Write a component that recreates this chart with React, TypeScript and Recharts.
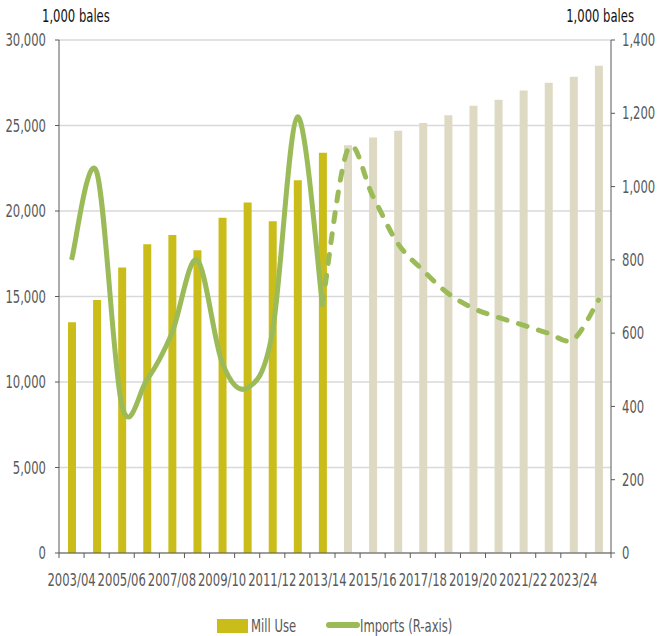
import React from "react";
import { ComposedChart, Bar, Line, Cell, XAxis, YAxis, CartesianGrid, Legend } from "recharts";

const seasons = [
  "2003/04", "2004/05", "2005/06", "2006/07", "2007/08", "2008/09", "2009/10", "2010/11",
  "2011/12", "2012/13", "2013/14", "2014/15", "2015/16", "2016/17", "2017/18", "2018/19",
  "2019/20", "2020/21", "2021/22", "2022/23", "2023/24", "2024/25",
];

// mill use, 1,000 bales (left axis)
const millUse = [
  13500, 14800, 16700, 18050, 18600, 17700, 19600, 20500, 19400, 21800, 23400,
  23850, 24300, 24700, 25150, 25600, 26150, 26500, 27050, 27500, 27850, 28500,
];

// imports, 1,000 bales (right axis); actual through 2013/14, projected after
const importsActual = [800, 1040, 405, 472, 600, 800, 520, 450, 600, 1190, 677];
const importsProjected = [677, 1100, 975, 845, 772, 709, 668, 643, 622, 600, 583, 690];
const projStart = 10;
const firstProjectedBar = 11;

const leftTicks = [0, 5000, 10000, 15000, 20000, 25000, 30000];
const rightTicks = [0, 200, 400, 600, 800, 1000, 1200, 1400];

const data = seasons.map((s, i) => ({
  season: s,
  mill: millUse[i],
  imports: i < importsActual.length ? importsActual[i] : null,
  importsProj: i >= projStart ? importsProjected[i - projStart] : null,
}));

const FONT = '"DejaVu Sans Condensed", "DejaVu Sans", sans-serif';
const FS = 17;
const SQUEEZE = 0.76; // the source uses a narrow font
const GRAY = "#595959";
const OLIVE = "#CABD1A";
const BEIGE = "#DDD9C3";
const GREEN = "#9BBB59";
const W = 657;
const H = 636;
const BAND = (W - 59 - 46) / seasons.length;

// Excel-like smoothing (Catmull-Rom through each point)
function excelSmooth(context: any) {
  let pts: number[][] = [];
  return {
    areaStart() {},
    areaEnd() {},
    lineStart() {
      pts = [];
    },
    point(x: number, y: number) {
      pts.push([+x, +y]);
    },
    lineEnd() {
      const n = pts.length;
      if (!n) return;
      context.moveTo(pts[0][0], pts[0][1]);
      for (let i = 0; i < n - 1; i++) {
        const p0 = pts[i - 1] || pts[i];
        const p1 = pts[i];
        const p2 = pts[i + 1];
        const p3 = pts[i + 2] || p2;
        context.bezierCurveTo(
          p1[0] + (p2[0] - p0[0]) / 6,
          p1[1] + (p2[1] - p0[1]) / 6,
          p2[0] - (p3[0] - p1[0]) / 6,
          p2[1] - (p3[1] - p1[1]) / 6,
          p2[0],
          p2[1]
        );
      }
    },
  };
}

function Narrow({ x, y, anchor = "start", fill = GRAY, dy, children }: any) {
  return (
    <text
      transform={`translate(${x},${y}) scale(${SQUEEZE},1)`}
      textAnchor={anchor}
      dy={dy}
      fill={fill}
      fontSize={FS}
      fontFamily={FONT}
    >
      {children}
    </text>
  );
}

function SeasonTick(props: any) {
  const { x, y, payload, index } = props;
  const half = BAND / 2;
  return (
    <g>
      <line x1={x - half} x2={x - half} y1={y} y2={y + 5} stroke={GRAY} />
      {index === seasons.length - 1 && <line x1={x + half} x2={x + half} y1={y} y2={y + 5} stroke={GRAY} />}
      {index % 2 === 0 && (
        <Narrow x={x} y={y + 33} anchor="middle">
          {payload.value}
        </Narrow>
      )}
    </g>
  );
}

function ValueTick(props: any) {
  const { x, y, payload, textAnchor } = props;
  return (
    <Narrow x={x} y={y} anchor={textAnchor} dy="0.36em">
      {payload.value.toLocaleString("en-US")}
    </Narrow>
  );
}

function ChartLegend() {
  return (
    <svg width={W} height={24} style={{ display: "block" }}>
      <rect x={217} y={7} width={31} height={14} fill={OLIVE} />
      <Narrow x={251} y={14} dy="0.36em">Mill Use</Narrow>
      <line x1={329} x2={357} y1={13} y2={13} stroke={GREEN} strokeWidth={6} strokeLinecap="round" />
      <Narrow x={360} y={14} dy="0.36em">Imports (R-axis)</Narrow>
    </svg>
  );
}

export default function App() {
  return (
    <div style={{ position: "absolute", left: 0, top: 0, width: W, height: H, background: "#fff" }}>
      <ComposedChart width={W} height={H} data={data} margin={{ top: 40, right: 0, bottom: 0, left: 0 }} barCategoryGap={0}>
        <CartesianGrid yAxisId="left" vertical={false} stroke="#D9D9D9" strokeWidth={1.5} />
        <XAxis
          dataKey="season"
          interval={0}
          tickLine={false}
          tickSize={0}
          tickMargin={0}
          height={59}
          axisLine={{ stroke: GRAY }}
          tick={<SeasonTick />}
        />
        <YAxis
          yAxisId="left"
          width={59}
          domain={[0, 30000]}
          ticks={leftTicks}
          tickSize={4}
          tickMargin={9}
          axisLine={{ stroke: GRAY }}
          tickLine={{ stroke: GRAY }}
          tick={<ValueTick />}
          label={{
            content: () => (
              <Narrow x={42} y={22} fill="#111">
                1,000 bales
              </Narrow>
            ),
          }}
        />
        <YAxis
          yAxisId="right"
          orientation="right"
          width={46}
          domain={[0, 1400]}
          ticks={rightTicks}
          tickSize={4}
          tickMargin={7}
          axisLine={{ stroke: GRAY }}
          tickLine={{ stroke: GRAY }}
          tick={<ValueTick />}
          label={{
            content: () => (
              <Narrow x={634} y={22} anchor="end" fill="#111">
                1,000 bales
              </Narrow>
            ),
          }}
        />
        <Legend content={<ChartLegend />} wrapperStyle={{ top: 612, left: 0, width: W, height: 24 }} />
        <Bar yAxisId="left" dataKey="mill" name="Mill Use" barSize={8} isAnimationActive={false}>
          {data.map((d, i) => (
            <Cell key={d.season} fill={i >= firstProjectedBar ? BEIGE : OLIVE} />
          ))}
        </Bar>
        <Line
          yAxisId="right"
          dataKey="imports"
          name="Imports (R-axis)"
          type={excelSmooth as any}
          stroke={GREEN}
          strokeWidth={5}
          dot={false}
          activeDot={false}
          isAnimationActive={false}
        />
        <Line
          yAxisId="right"
          dataKey="importsProj"
          legendType="none"
          type={excelSmooth as any}
          stroke={GREEN}
          strokeWidth={5}
          strokeDasharray="9 12"
          strokeLinecap="round"
          dot={false}
          activeDot={false}
          isAnimationActive={false}
        />
      </ComposedChart>
    </div>
  );
}
